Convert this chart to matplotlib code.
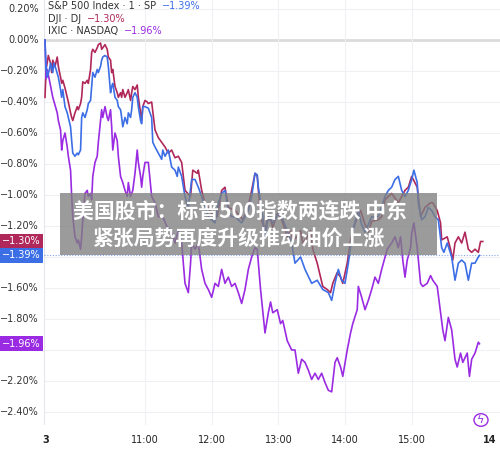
import matplotlib
matplotlib.use("Agg")
import numpy as np
from matplotlib import pyplot as plt
from matplotlib.patches import Circle, Rectangle

plt.rcParams['font.family'] = ['Noto Sans CJK SC', 'DejaVu Sans']

# minutes after 9:30 and change in %
sp_t = [0, 1, 1, 2, 4, 5, 7, 8, 10, 12, 14, 15, 16, 18, 20, 21, 23, 24, 25, 27, 29, 30, 32, 33, 34, 36, 38, 39,
        41, 42, 43, 45, 47, 48, 50, 51, 52, 54, 56, 57, 59, 60, 61, 63, 65, 66, 68, 69, 70, 72, 74, 75, 77, 78,
        79, 81, 83, 84, 86, 87, 88, 90, 93, 96, 97, 99, 102, 105, 106, 108, 111, 114, 117, 119, 120, 123, 126,
        129, 132, 135, 138, 141, 144, 147, 150, 153, 156, 159, 162, 165, 168, 171, 174, 177, 180, 183, 186, 189,
        191, 192, 196, 198, 201, 205, 210, 213, 218, 222, 225, 230, 234, 240, 245, 250, 255, 258, 261, 264, 267,
        270, 273, 277, 282, 285, 288, 291, 294, 300, 306, 309, 312, 315, 318, 321, 324, 327, 330, 332, 335, 336,
        339, 342, 345, 348, 351, 354, 357, 359, 362, 366, 369, 372, 375, 378, 381, 384, 387, 390, 391]
sp_v = [0.00, -0.19, -0.17, -0.24, -0.19, -0.15, -0.21, -0.15, -0.19, -0.24, -0.32, -0.37, -0.32, -0.43, -0.47,
        -0.50, -0.56, -0.65, -0.73, -0.75, -0.73, -0.74, -0.71, -0.50, -0.47, -0.50, -0.45, -0.41, -0.39, -0.30,
        -0.21, -0.24, -0.19, -0.21, -0.17, -0.13, -0.11, -0.10, -0.11, -0.17, -0.34, -0.30, -0.28, -0.37, -0.39,
        -0.43, -0.45, -0.50, -0.56, -0.50, -0.54, -0.47, -0.50, -0.45, -0.37, -0.34, -0.37, -0.43, -0.52, -0.54,
        -0.43, -0.43, -0.44, -0.50, -0.66, -0.69, -0.73, -0.77, -0.71, -0.75, -0.71, -0.82, -0.84, -0.88, -0.82,
        -0.88, -1.01, -1.08, -0.90, -0.90, -0.95, -1.01, -1.08, -1.14, -1.16, -1.18, -1.05, -0.99, -0.97, -1.10,
        -1.14, -1.14, -1.16, -1.18, -1.14, -1.10, -1.01, -0.86, -0.87, -0.95, -1.14, -1.27, -1.14, -1.18, -1.12,
        -1.14, -1.23, -1.31, -1.44, -1.40, -1.48, -1.57, -1.55, -1.61, -1.63, -1.68, -1.57, -1.48, -1.55, -1.57,
        -1.44, -1.23, -1.10, -1.19, -1.24, -1.19, -1.14, -1.14, -1.01, -0.97, -0.95, -0.90, -0.88, -0.97, -1.01,
        -0.97, -0.90, -0.84, -0.92, -1.05, -1.16, -1.14, -1.08, -1.10, -1.14, -1.16, -1.34, -1.37, -1.31, -1.40,
        -1.55, -1.44, -1.42, -1.44, -1.55, -1.44, -1.44, -1.40, -1.39]

dj_t = [0, 1, 3, 5, 6, 7, 9, 11, 12, 14, 15, 16, 18, 20, 21, 23, 24, 25, 27, 29, 30, 32, 33, 34, 36, 38, 39, 41,
        42, 43, 45, 47, 48, 50, 51, 52, 54, 56, 57, 59, 60, 61, 63, 65, 66, 68, 69, 70, 72, 74, 75, 77, 78, 79,
        81, 83, 84, 86, 87, 88, 90, 92, 93, 96, 99, 102, 105, 108, 111, 114, 117, 120, 123, 126, 131, 133, 137,
        138, 141, 144, 150, 155, 159, 162, 165, 171, 176, 178, 182, 186, 189, 191, 194, 198, 200, 203, 205, 209,
        212, 214, 218, 221, 223, 227, 230, 232, 236, 239, 241, 245, 248, 250, 254, 257, 259, 263, 266, 268, 272,
        275, 277, 281, 284, 288, 291, 294, 300, 303, 306, 309, 312, 318, 321, 324, 327, 330, 335, 338, 342, 347,
        349, 353, 356, 357, 362, 365, 367, 369, 372, 375, 378, 381, 384, 387, 390, 392, 394]
dj_v = [-0.37, -0.19, -0.10, -0.15, -0.21, -0.13, -0.17, -0.11, -0.17, -0.24, -0.28, -0.26, -0.31, -0.37, -0.40,
        -0.47, -0.50, -0.52, -0.47, -0.43, -0.45, -0.41, -0.37, -0.27, -0.28, -0.26, -0.28, -0.19, -0.08, -0.06,
        -0.08, -0.05, -0.03, -0.02, -0.06, -0.05, -0.03, -0.06, -0.11, -0.13, -0.21, -0.19, -0.30, -0.34, -0.37,
        -0.34, -0.37, -0.32, -0.37, -0.34, -0.32, -0.39, -0.34, -0.30, -0.32, -0.29, -0.37, -0.47, -0.52, -0.43,
        -0.39, -0.40, -0.41, -0.40, -0.58, -0.63, -0.66, -0.69, -0.73, -0.71, -0.76, -0.75, -0.79, -0.97, -1.01,
        -0.84, -0.86, -0.84, -0.97, -1.05, -1.12, -1.14, -0.97, -0.95, -1.08, -1.10, -1.14, -1.16, -1.10, -0.97,
        -0.86, -0.88, -1.14, -1.23, -1.16, -1.16, -1.21, -1.12, -1.14, -1.18, -1.27, -1.23, -1.29, -1.27, -1.23,
        -1.31, -1.27, -1.23, -1.35, -1.44, -1.53, -1.59, -1.61, -1.63, -1.57, -1.50, -1.53, -1.57, -1.44, -1.29,
        -1.23, -1.14, -1.10, -1.19, -1.24, -1.17, -1.16, -1.14, -1.03, -1.01, -0.99, -1.05, -1.01, -0.97, -0.95,
        -0.88, -0.95, -1.14, -1.08, -1.05, -1.05, -1.10, -1.18, -1.29, -1.27, -1.35, -1.42, -1.31, -1.27, -1.31,
        -1.24, -1.35, -1.37, -1.35, -1.37, -1.30, -1.30]

nq_t = [0, 1, 2, 4, 7, 9, 11, 12, 14, 15, 16, 18, 20, 21, 23, 24, 25, 27, 29, 30, 32, 33, 34, 36, 38, 39, 41, 42,
        43, 45, 47, 48, 50, 51, 52, 54, 56, 57, 59, 60, 61, 63, 65, 66, 68, 70, 72, 74, 75, 77, 79, 81, 83, 84,
        86, 87, 88, 90, 92, 93, 96, 99, 102, 106, 110, 114, 117, 120, 123, 126, 129, 131, 132, 135, 138, 141,
        144, 147, 150, 153, 156, 159, 162, 165, 168, 171, 174, 177, 180, 183, 186, 189, 191, 194, 198, 201, 203,
        205, 209, 212, 214, 218, 222, 225, 228, 231, 234, 237, 240, 243, 246, 249, 252, 255, 258, 261, 263, 266,
        268, 272, 275, 277, 281, 282, 285, 288, 291, 294, 297, 300, 303, 308, 312, 315, 318, 320, 322, 324, 326,
        329, 330, 332, 335, 338, 340, 344, 347, 349, 353, 356, 358, 360, 363, 366, 369, 371, 374, 376, 380, 382,
        384, 387, 390, 391]
nq_v = [0.00, -0.25, -0.19, -0.26, -0.37, -0.42, -0.47, -0.52, -0.58, -0.71, -0.65, -0.60, -0.69, -0.75, -0.84,
        -1.01, -1.14, -1.27, -1.31, -1.29, -1.35, -1.27, -1.16, -0.99, -0.97, -1.01, -0.99, -1.03, -0.88, -0.79,
        -0.75, -0.66, -0.52, -0.45, -0.50, -0.43, -0.50, -0.52, -0.45, -0.56, -0.71, -0.60, -0.65, -0.75, -0.88,
        -0.92, -0.97, -1.01, -0.92, -1.01, -0.97, -0.86, -0.71, -0.79, -0.88, -0.95, -0.88, -0.79, -0.79, -0.79,
        -1.01, -1.05, -1.14, -1.14, -1.21, -1.23, -1.31, -1.23, -1.31, -1.57, -1.63, -1.44, -1.31, -1.35, -1.31,
        -1.48, -1.57, -1.61, -1.66, -1.57, -1.59, -1.48, -1.57, -1.53, -1.59, -1.57, -1.63, -1.70, -1.61, -1.48,
        -1.40, -1.34, -1.35, -1.61, -1.89, -1.76, -1.69, -1.76, -1.74, -1.83, -1.81, -1.94, -2.00, -2.00, -2.15,
        -2.06, -2.08, -2.13, -2.19, -2.15, -2.19, -2.15, -2.21, -2.26, -2.27, -2.08, -2.05, -2.11, -2.17, -2.00,
        -1.89, -1.83, -1.74, -1.59, -1.66, -1.74, -1.68, -1.61, -1.53, -1.57, -1.48, -1.35, -1.31, -1.27, -1.34,
        -1.27, -1.42, -1.53, -1.42, -1.34, -1.25, -1.18, -1.34, -1.57, -1.59, -1.57, -1.52, -1.55, -1.59, -1.76,
        -1.87, -1.94, -1.79, -1.87, -2.06, -2.11, -2.02, -2.08, -2.02, -2.17, -2.06, -2.02, -1.95, -1.96]

y_ticks = [0.2, 0.0, -0.2, -0.4, -0.6, -0.8, -1.0, -1.2, -1.4, -1.6, -1.8, -2.0, -2.2, -2.4]
# labels hidden under the last-value tags in the original
y_hidden = [-1.4, -2.0]
x_ticks = [1, 90, 150, 210, 270, 330, 400]
x_labels = ["3", "11:00", "12:00", "13:00", "14:00", "15:00", "14"]

c_sp = "#3c6ee6"
c_dj = "#b0285a"
c_nq = "#9a2be2"

fig = plt.figure(figsize=(5, 4.49), dpi=100)
ax = fig.add_axes([44 / 500, 24 / 449, 456 / 500, 425 / 449])
ax.set_xlim(-0.9, 409.5)
ax.set_ylim(-2.484, 0.258)

for v in y_ticks:
    if v != 0:
        ax.axhline(v, color="#eef0f3", lw=0.8, zorder=0)
ax.axhline(0, color="#dcdcdc", lw=2, zorder=0)
for t in x_ticks[1:6]:
    ax.axvline(t, color="#eef0f3", lw=0.8, zorder=0)
ax.axvline(-0.5, color="#e3e6ea", lw=0.8, zorder=0)

ax.plot(dj_t, dj_v, color=c_dj, lw=1.2, zorder=2)
ax.plot(nq_t, nq_v, color=c_nq, lw=1.2, zorder=3)
ax.plot(sp_t, sp_v, color=c_sp, lw=1.2, zorder=4)
ax.axhline(sp_v[-1], color=c_sp, lw=0.8, ls=(0, (1, 1.5)), alpha=0.6, zorder=1)

for s in ax.spines.values():
    s.set_visible(False)
ax.set_xticks([])
ax.set_yticks([])

# y tick labels
for v in y_ticks:
    if any(abs(v - h) < 1e-9 for h in y_hidden):
        continue
    ax.text(-0.012, v, f"{v:.2f}%".replace("-", "−"), transform=ax.get_yaxis_transform(),
            ha="right", va="center", fontsize=7, color="#333333", family="DejaVu Sans")

# x tick labels
for t, lab in zip(x_ticks, x_labels):
    bold = lab in ("3", "14")
    ax.text(t, -0.035, lab, transform=ax.get_xaxis_transform(), ha="center", va="center",
            fontsize=7, color="#222222", fontweight="bold" if bold else "normal", family="DejaVu Sans")

# last value tags on the left
for val, col in [(dj_v[-1], c_dj), (sp_v[-1], c_sp), (nq_v[-1], c_nq)]:
    ax.text(-0.049, val, f"{val:.2f}%".replace("-", "−"), transform=ax.get_yaxis_transform(),
            ha="center", va="center", fontsize=7, color="white", family="DejaVu Sans", zorder=6,
            bbox=dict(boxstyle="square,pad=0.25", fc=col, ec="none"), clip_on=False)

# legend lines
legend = [("S&P 500 Index · 1 · SP", sp_v[-1], c_sp),
          ("DJI · DJ", dj_v[-1], c_dj),
          ("IXIC · NASDAQ", nq_v[-1], c_nq)]
for i, (name, val, col) in enumerate(legend):
    y = 1 - (6 + i * 12.5) / 449
    t1 = fig.text(48 / 500, y, name + "  ", fontsize=7, color="#333333", va="center", family="DejaVu Sans")
    fig.canvas.draw()
    bb = t1.get_window_extent()
    fig.text(bb.x1 / 500, y, f"{val:.2f}%".replace("-", "−"), fontsize=7, color=col, va="center",
             family="DejaVu Sans")

# news banner
fig.patches.append(Rectangle((60 / 500, 1 - 255 / 449), 377 / 500, 62 / 449, transform=fig.transFigure,
                             fc="#7f7f7f", ec="none", alpha=0.78, zorder=10))
fig.text(240 / 500, 1 - 211 / 449, "美国股市：标普500指数两连跌 中东", fontsize=15, fontweight="bold",
         color="white", ha="center", va="center", zorder=11)
fig.text(238 / 500, 1 - 239 / 449, "紧张局势再度升级推动油价上涨", fontsize=15, fontweight="bold",
         color="white", ha="center", va="center", zorder=11)

# lightning icon
fig.patches.append(Circle((481 / 500, 1 - 420 / 449), 7 / 500, transform=fig.transFigure,
                          fc="white", ec=c_nq, lw=1.0, zorder=12))
fig.text(481 / 500, 1 - 420 / 449, "ϟ", fontsize=8, color=c_nq, ha="center", va="center",
         family="DejaVu Sans", zorder=13)

fig.savefig("out.png", dpi=100)
